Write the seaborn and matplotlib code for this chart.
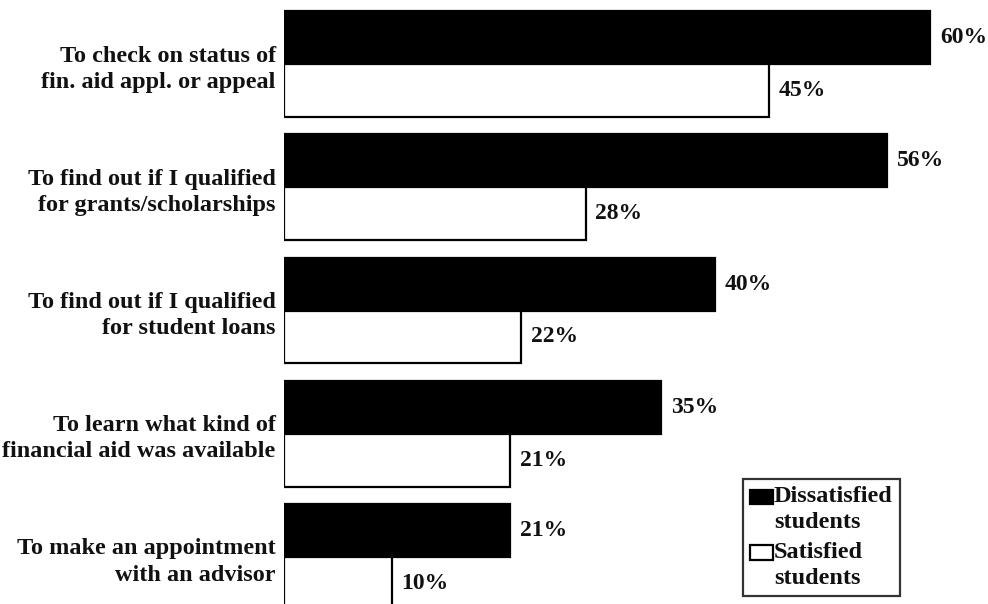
import matplotlib
matplotlib.use("Agg")
import matplotlib.pyplot as plt
import seaborn as sns
import pandas as pd
from matplotlib.patches import Rectangle
from matplotlib.legend_handler import HandlerPatch

categories = [
    "To check on status of\nfin. aid appl. or appeal",
    "To find out if I qualified\nfor grants/scholarships",
    "To find out if I qualified\nfor student loans",
    "To learn what kind of\nfinancial aid was available",
    "To make an appointment\nwith an advisor",
]
dissatisfied = [60, 56, 40, 35, 21]
satisfied = [45, 28, 22, 21, 10]
groups = ["Dissatisfied\nstudents", "Satisfied\nstudents"]

df = pd.DataFrame({
    "reason": categories * 2,
    "pct": dissatisfied + satisfied,
    "group": [groups[0]] * len(categories) + [groups[1]] * len(categories),
})

sns.set_theme(style="white")
plt.rcParams["font.family"] = ["Liberation Serif", "DejaVu Serif"]
plt.rcParams["font.weight"] = "bold"

FS = 17.5
INK = "#111111"

fig = plt.figure(figsize=(9.88, 6.04), dpi=100)
ax = fig.add_axes([284 / 988, 0, 704 / 988, 1])

sns.barplot(
    data=df, y="reason", x="pct", hue="group", orient="h",
    palette={groups[0]: "black", groups[1]: "white"},
    width=0.86, edgecolor="black", linewidth=1.6, saturation=1,
    ax=ax,
)

for cont in ax.containers:
    ax.bar_label(cont, fmt="%d%%", padding=7, fontsize=17,
                 fontweight="bold", color=INK)

ax.set_xlim(0, 65.37)
ax.set_ylim(4.382, -0.52)
ax.set_xlabel("")
ax.set_ylabel("")
ax.set_xticks([])
for s in ax.spines.values():
    s.set_visible(False)
ax.tick_params(axis="y", length=0, pad=6, labelsize=FS)
for t in ax.get_yticklabels():
    t.set_fontweight("bold")
    t.set_linespacing(1.32)
    t.set_color(INK)


# legend swatch sits beside the first line of each two-line label
def top_swatch(legend, orig_handle, xdescent, ydescent, width, height, fontsize):
    return Rectangle((-xdescent, -ydescent + 0.5 * fontsize), width, height)


leg = ax.legend(
    loc="upper left", bbox_to_anchor=(743 / 988, 1 - 479 / 604),
    bbox_transform=fig.transFigure, frameon=True, fancybox=False,
    prop={"size": FS, "weight": "bold"}, handlelength=0.95, handleheight=0.55,
    handletextpad=0.02, borderpad=0.3, borderaxespad=0, labelspacing=0.35,
    handler_map={Rectangle: HandlerPatch(patch_func=top_swatch)},
)
leg.get_frame().set_edgecolor("black")
leg.get_frame().set_linewidth(1.6)
for h in leg.legend_handles:
    h.set_edgecolor("black")
    h.set_linewidth(1.6)
for t in leg.get_texts():
    t.set_linespacing(1.32)
    t.set_color(INK)

fig.savefig("out.png", dpi=100)
